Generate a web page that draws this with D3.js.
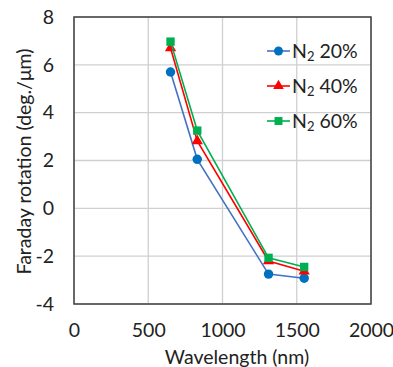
<!DOCTYPE html>
<html><head><meta charset="utf-8">
<script src="https://cdn.jsdelivr.net/npm/d3@7"></script>
<style>body{margin:0;background:#fff;} svg{display:block;font-family:Lato, "Open Sans", sans-serif;}</style>
</head><body>
<svg id="c" width="393" height="367"></svg>
<script>
const wavelengths = [650, 830, 1310, 1550];
const seriesNames = ["20%", "40%", "60%"];
const n20 = [5.7, 2.05, -2.75, -2.92];
const n40 = [6.7, 2.82, -2.2, -2.63];
const n60 = [6.97, 3.25, -2.07, -2.45];
const xTicks = [0, 500, 1000, 1500, 2000];
const yTicks = [-4, -2, 0, 2, 4, 6, 8];

const FS = 19.5;
const svg = d3.select("#c");
const L = 74, R = 371, T = 17, B = 304;
const x = d3.scaleLinear().domain([0, 2000]).range([L, R]);
const y = d3.scaleLinear().domain([-4, 8]).range([B, T]);
const fmt = d => String(d);

// grid
svg.append("g").selectAll("line").data(xTicks).join("line")
  .attr("x1", d => x(d)).attr("x2", d => x(d)).attr("y1", T).attr("y2", B)
  .attr("stroke", "#d0d0d0").attr("stroke-width", 1.3);
svg.append("g").selectAll("line").data(yTicks).join("line")
  .attr("x1", L).attr("x2", R).attr("y1", d => y(d)).attr("y2", d => y(d))
  .attr("stroke", "#d0d0d0").attr("stroke-width", 1.3);

// frame
svg.append("rect").attr("x", L).attr("y", T).attr("width", R - L).attr("height", B - T)
  .attr("fill", "none").attr("stroke", "#404040").attr("stroke-width", 1.5);

// axes labels
const xAxis = d3.axisBottom(x).tickValues(xTicks).tickFormat(fmt).tickSize(0).tickPadding(19);
const gx = svg.append("g").attr("transform", `translate(0,${B})`).call(xAxis);
gx.attr("font-size", FS).attr("font-family", null);
gx.select(".domain").remove();
gx.selectAll("text").attr("fill", "#222");
const yAxis = d3.axisLeft(y).tickValues(yTicks).tickFormat(fmt).tickSize(0).tickPadding(20);
const gy = svg.append("g").attr("transform", `translate(${L},0)`).call(yAxis);
gy.attr("font-size", FS).attr("font-family", null);
gy.select(".domain").remove();
gy.selectAll("text").attr("fill", "#222");

svg.append("text").attr("x", (166 + 308) / 2).attr("y", 364).attr("text-anchor", "middle")
  .attr("font-size", FS).attr("fill", "#222").text("Wavelength (nm)");
svg.append("text").attr("transform", `translate(31,${(T + B) / 2 + 1}) rotate(-90)`).attr("text-anchor", "middle")
  .attr("font-size", FS).attr("fill", "#222").text("Faraday rotation (deg./μm)");

const series = [
  {name: seriesNames[0], vals: n20, line: "#4472C4", mark: "#0070C0", shape: "circle"},
  {name: seriesNames[1], vals: n40, line: "#FF0000", mark: "#FF0000", shape: "triangle"},
  {name: seriesNames[2], vals: n60, line: "#00B050", mark: "#00B050", shape: "square"}
];
const sym = {circle: d3.symbolCircle, triangle: d3.symbolTriangle, square: d3.symbolSquare};
const size = {circle: 70, triangle: 55, square: 70};
const lineGen = d3.line().x(d => x(d[0])).y(d => y(d[1]));

series.forEach(s => {
  const pts = wavelengths.map((w, i) => [w, s.vals[i]]);
  svg.append("path").attr("d", lineGen(pts)).attr("fill", "none").attr("stroke", s.line).attr("stroke-width", 1.6);
  svg.append("g").selectAll("path").data(pts).join("path")
    .attr("transform", d => `translate(${x(d[0])},${y(d[1])})`)
    .attr("d", d3.symbol().type(sym[s.shape]).size(size[s.shape])).attr("fill", s.mark);
});

// legend
const legY = [51, 86, 121];
series.forEach((s, i) => {
  const g = svg.append("g").attr("transform", `translate(267,${legY[i]})`);
  g.append("line").attr("x1", 0).attr("x2", 23).attr("stroke", s.line).attr("stroke-width", 1.6);
  g.append("path").attr("transform", "translate(11.5,0)").attr("d", d3.symbol().type(sym[s.shape]).size(size[s.shape] * 0.9)).attr("fill", s.mark);
  const t = g.append("text").attr("x", 25).attr("y", 6.5).attr("font-size", FS).attr("fill", "#222");
  t.append("tspan").text("N");
  t.append("tspan").attr("font-size", 13).attr("dy", 3).text("2");
  t.append("tspan").attr("dy", -3).text(" " + s.name);
});
</script>
</body></html>
